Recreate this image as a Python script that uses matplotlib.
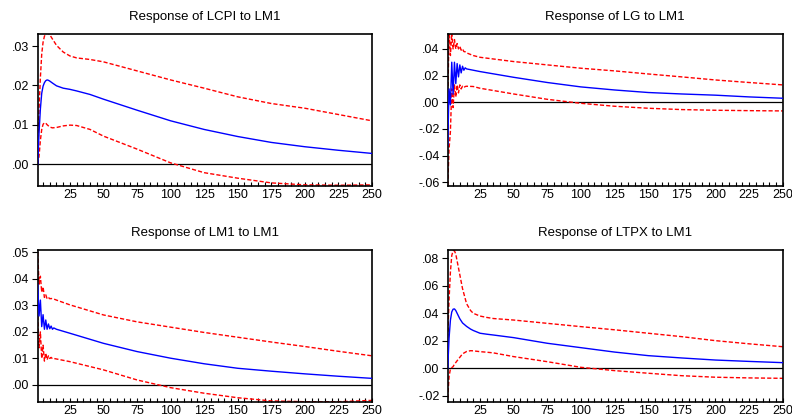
import matplotlib
matplotlib.use("Agg")
import matplotlib.pyplot as plt
from matplotlib.ticker import MultipleLocator, FuncFormatter

plt.rcParams['font.family'] = ['Liberation Sans', 'DejaVu Sans']

# ---- Response of LCPI to LM1 ----
lcpi_t = [1, 2, 3, 4, 5, 6, 7, 8, 9, 10, 12, 15, 20, 25, 30, 40, 50, 75, 100, 125, 150, 175, 200, 225, 250]
lcpi_resp = [0.0, 0.008, 0.014, 0.018, 0.0198, 0.0207, 0.0212, 0.0214, 0.0213, 0.0211, 0.0206, 0.0199, 0.0193, 0.019, 0.0186, 0.0177, 0.0165, 0.0137, 0.011, 0.0088, 0.007, 0.0055, 0.0044, 0.0035, 0.0027]
lcpi_up = [0.0, 0.014, 0.022, 0.028, 0.031, 0.0325, 0.0331, 0.0334, 0.0333, 0.0329, 0.0318, 0.0302, 0.0285, 0.0275, 0.027, 0.0266, 0.026, 0.0237, 0.0214, 0.0193, 0.0171, 0.0154, 0.0142, 0.0126, 0.011]
lcpi_lo = [0.0, 0.002, 0.006, 0.0088, 0.0101, 0.0105, 0.0104, 0.0100, 0.0097, 0.0094, 0.0092, 0.0093, 0.0097, 0.0099, 0.0098, 0.0088, 0.0071, 0.0038, 0.0003, -0.0022, -0.0036, -0.0048, -0.0053, -0.0054, -0.0053]

# ---- Response of LG to LM1 ----
lg_t = [1, 2, 3, 4, 5, 6, 7, 8, 9, 10, 11, 12, 13, 14, 15, 20, 25, 50, 75, 100, 125, 150, 175, 200, 225, 250]
lg_resp = [-0.032, 0.010, -0.002, 0.030, 0.006, 0.030, 0.014, 0.029, 0.019, 0.028, 0.022, 0.027, 0.024, 0.0258, 0.025, 0.024, 0.023, 0.0187, 0.0148, 0.0115, 0.0092, 0.0073, 0.0062, 0.0053, 0.0040, 0.0030]
lg_up = [-0.002, 0.055, 0.035, 0.052, 0.040, 0.047, 0.040, 0.044, 0.040, 0.042, 0.039, 0.040, 0.038, 0.0378, 0.037, 0.035, 0.0337, 0.0305, 0.028, 0.0255, 0.0235, 0.0212, 0.019, 0.0167, 0.0148, 0.013]
lg_lo = [-0.062, -0.035, -0.022, 0.010, -0.004, 0.013, 0.004, 0.013, 0.007, 0.013, 0.010, 0.012, 0.011, 0.0118, 0.012, 0.0118, 0.0105, 0.0062, 0.0022, -0.0008, -0.003, -0.0045, -0.0055, -0.006, -0.0063, -0.0065]

# ---- Response of LM1 to LM1 ----
lm1_t = [1, 2, 3, 4, 5, 6, 7, 8, 9, 10, 11, 12, 13, 15, 25, 50, 75, 100, 125, 150, 175, 200, 225, 250]
lm1_resp = [0.038, 0.026, 0.032, 0.022, 0.0265, 0.021, 0.0245, 0.021, 0.023, 0.0212, 0.0222, 0.021, 0.0215, 0.021, 0.0195, 0.0157, 0.0126, 0.0101, 0.008, 0.0063, 0.0052, 0.0042, 0.0033, 0.0025]
lm1_up = [0.050, 0.038, 0.041, 0.035, 0.037, 0.033, 0.034, 0.0325, 0.033, 0.0325, 0.0326, 0.0325, 0.0324, 0.032, 0.0302, 0.0264, 0.0238, 0.0218, 0.0198, 0.018, 0.0162, 0.0145, 0.0127, 0.011]
lm1_lo = [0.026, 0.014, 0.020, 0.010, 0.015, 0.009, 0.012, 0.0095, 0.011, 0.0100, 0.0104, 0.0099, 0.0100, 0.0098, 0.0088, 0.0057, 0.0019, -0.001, -0.0031, -0.0048, -0.006, -0.0063, -0.0063, -0.0058]

# ---- Response of LTPX to LM1 ----
ltpx_t = [1, 2, 3, 4, 5, 6, 7, 8, 10, 12, 15, 18, 20, 25, 30, 35, 50, 75, 100, 125, 150, 175, 200, 225, 250]
ltpx_resp = [0.0, 0.022, 0.035, 0.041, 0.043, 0.0432, 0.042, 0.040, 0.036, 0.033, 0.0305, 0.0285, 0.0275, 0.0255, 0.0248, 0.0242, 0.0223, 0.0182, 0.015, 0.0118, 0.0092, 0.0075, 0.006, 0.005, 0.0041]
ltpx_up = [0.022, 0.050, 0.070, 0.082, 0.0855, 0.0855, 0.083, 0.078, 0.068, 0.058, 0.047, 0.042, 0.040, 0.038, 0.037, 0.0362, 0.0351, 0.0327, 0.0303, 0.028, 0.0255, 0.023, 0.0201, 0.0178, 0.0157]
ltpx_lo = [-0.022, -0.006, -0.0005, 0.0005, 0.0012, 0.003, 0.0042, 0.0055, 0.008, 0.0105, 0.0122, 0.0128, 0.0127, 0.0121, 0.0117, 0.0112, 0.0085, 0.0048, 0.0007, -0.0017, -0.0036, -0.0054, -0.0065, -0.007, -0.0073]

titles = ["Response of LCPI to LM1", "Response of LG to LM1",
          "Response of LM1 to LM1", "Response of LTPX to LM1"]

fig = plt.figure(figsize=(7.92, 4.19), dpi=100)

# [left, bottom, width, height] in figure fraction
boxes = [[0.0476, 0.556, 0.422, 0.363],
         [0.5653, 0.556, 0.423, 0.363],
         [0.0476, 0.040, 0.422, 0.3635],
         [0.5653, 0.040, 0.423, 0.3635]]
ylims = [(-0.0056, 0.0331), (-0.0628, 0.0512), (-0.0065, 0.0509), (-0.0247, 0.0861)]
ysteps = [0.01, 0.02, 0.01, 0.02]
series = [(lcpi_t, lcpi_resp, lcpi_up, lcpi_lo),
          (lg_t, lg_resp, lg_up, lg_lo),
          (lm1_t, lm1_resp, lm1_up, lm1_lo),
          (ltpx_t, ltpx_resp, ltpx_up, ltpx_lo)]


def fmt(v, pos):
    s = "%.2f" % v
    return s.replace("0.", ".", 1)


for box, title, ylim, step, (t, resp, up, lo) in zip(boxes, titles, ylims, ysteps, series):
    ax = fig.add_axes(box)
    ax.axhline(0, color='black', lw=0.9, zorder=1)
    ax.plot(t, up, color='red', lw=1.0, ls=(0, (3, 1.5)), zorder=2)
    ax.plot(t, lo, color='red', lw=1.0, ls=(0, (3, 1.5)), zorder=2)
    ax.plot(t, resp, color='blue', lw=1.0, zorder=3)
    ax.set_xlim(1, 250)
    ax.set_ylim(*ylim)
    ax.xaxis.set_major_locator(MultipleLocator(25))
    ax.xaxis.set_minor_locator(MultipleLocator(5))
    ax.yaxis.set_major_locator(MultipleLocator(step))
    ax.yaxis.set_major_formatter(FuncFormatter(fmt))
    ax.tick_params(axis='x', which='both', direction='in', length=3, width=0.8,
                   labelsize=9, pad=2)
    ax.tick_params(axis='y', which='major', direction='out', length=4, width=0.8,
                   labelsize=9, pad=2)
    for sp in ax.spines.values():
        sp.set_linewidth(1.2)
    ax.set_title(title, fontsize=9.5, pad=10)

fig.savefig("out.png", dpi=100)
